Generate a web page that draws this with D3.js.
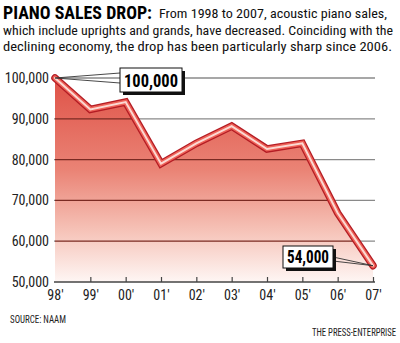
<!DOCTYPE html>
<html><head><meta charset="utf-8">
<script src="https://cdn.jsdelivr.net/npm/d3@7"></script>
<style>body{margin:0;background:#fff}svg{display:block}</style>
</head><body>
<svg id="c" width="400" height="343"></svg>
<script>
const years = ["98'","99'","00'","01'","02'","03'","04'","05'","06'","07'"];
const sales = [100000, 92300, 94100, 79000, 84000, 88200, 82600, 84000, 66900, 54000];
const yTicks = [50000, 60000, 70000, 80000, 90000, 100000];
const titleLines = ["From 1998 to 2007, acoustic piano sales,",
  "which include uprights and grands, have decreased. Coinciding with the",
  "declining economy, the drop has been particularly sharp since 2006."];
const callouts = [{i:0, label:"100,000"}, {i:9, label:"54,000"}];

const svg = d3.select("#c");
const FONT = "'Liberation Sans Narrow','Roboto Condensed','Arial Narrow','Liberation Sans',sans-serif";
const x = d3.scalePoint().domain(years).range([55, 373]);
const y = d3.scaleLinear().domain([50000, 100000]).range([282, 78]);

// title
svg.append("text").attr("x",3).attr("y",19).attr("font-family",FONT).attr("font-weight","bold")
  .attr("font-size",19).attr("textLength",149).attr("lengthAdjust","spacingAndGlyphs").text("PIANO SALES DROP:");
const tl = [{x:159,y:18,w:228},{x:3,y:34.5,w:390},{x:3,y:50.5,w:389}];
titleLines.forEach((t,k)=>{
  svg.append("text").attr("x",tl[k].x).attr("y",tl[k].y).attr("font-family",FONT).attr("font-size",13.5)
    .attr("fill","#111").attr("textLength",tl[k].w).attr("lengthAdjust","spacingAndGlyphs").text(t);
});

// gradient
const defs = svg.append("defs");
const g = defs.append("linearGradient").attr("id","fillg")
  .attr("gradientUnits","userSpaceOnUse").attr("x1",0).attr("y1",y(100000)).attr("x2",0).attr("y2",y(50000));
g.append("stop").attr("offset","0%").attr("stop-color","#df5247");
g.append("stop").attr("offset","45%").attr("stop-color","#ea8375");
g.append("stop").attr("offset","75%").attr("stop-color","#f6c3b8");
g.append("stop").attr("offset","100%").attr("stop-color","#fef6f4");

// gridlines (behind, gray)
svg.append("g").selectAll("line").data(yTicks.filter(v=>v>50000)).join("line")
  .attr("x1",54).attr("x2",375).attr("y1",d=>y(d)).attr("y2",d=>y(d))
  .attr("stroke","#8a8a8a").attr("stroke-width",1.3);

// area
const area = d3.area().x((d,i)=>x(years[i])).y0(y(50000)).y1(d=>y(d));
svg.append("path").datum(sales).attr("d",area).attr("fill","url(#fillg)");

// gridlines over area (dark red), clipped to area
defs.append("clipPath").attr("id","ac").append("path").datum(sales).attr("d",area);
svg.append("g").attr("clip-path","url(#ac)").selectAll("line").data(yTicks.filter(v=>v>50000)).join("line")
  .attr("x1",54).attr("x2",375).attr("y1",d=>y(d)).attr("y2",d=>y(d))
  .attr("stroke","#7a2a22").attr("stroke-width",1.3);

// y axis labels
svg.append("g").selectAll("text").data(yTicks).join("text")
  .attr("x",49).attr("y",d=>y(d)+5).attr("text-anchor","end").attr("font-family",FONT)
  .attr("font-size",14).attr("fill","#222").text(d3.format(","));

// x axis
const xa = svg.append("g").attr("transform",`translate(0,${y(50000)})`)
  .call(d3.axisBottom(x).tickSize(-5).tickPadding(10));
xa.select(".domain").attr("d",`M54,0H375`).attr("stroke","#444").attr("stroke-width",1.3);
xa.selectAll(".tick line").attr("stroke","#444").attr("stroke-width",1.2);
xa.selectAll(".tick").filter((d,i)=>i===0).select("line").remove();
xa.selectAll(".tick text").attr("font-family",FONT).attr("font-size",14).attr("fill","#222").attr("dy","0.55em");

// line tube
const line = d3.line().x((d,i)=>x(years[i])).y(d=>y(d));
[["#b41c24",7.5],["#ee6258",5],["#fbd9d3",2]].forEach(([c,w])=>{
  svg.append("path").datum(sales).attr("d",line).attr("fill","none").attr("stroke",c)
    .attr("stroke-width",w).attr("stroke-linejoin","miter").attr("stroke-linecap","round");
});

// callouts
const boxes = [{bx:120,by:68,bw:62,bh:24,ly:[73,83],side:"left",fs:19},
               {bx:283,by:246,bw:50,bh:22,ly:[257,261],side:"right",fs:18}];
callouts.forEach((c,k)=>{
  const b = boxes[k], px = x(years[c.i]), py = y(sales[c.i]);
  const ex = b.side==="left" ? b.bx : b.bx+b.bw;
  b.ly.forEach(ly=>svg.append("line").attr("x1",px).attr("y1",py).attr("x2",ex).attr("y2",ly)
    .attr("stroke","#333").attr("stroke-width",0.9));
  svg.append("rect").attr("x",b.bx+3).attr("y",b.by+3).attr("width",b.bw).attr("height",b.bh).attr("fill","#111");
  svg.append("rect").attr("x",b.bx).attr("y",b.by).attr("width",b.bw).attr("height",b.bh)
    .attr("fill","#fff").attr("stroke","#111").attr("stroke-width",1);
  svg.append("text").attr("x",b.bx+b.bw/2).attr("y",b.by+b.bh-5).attr("text-anchor","middle")
    .attr("font-family",FONT).attr("font-weight","bold").attr("font-size",b.fs)
    .attr("textLength",b.bw-8).attr("lengthAdjust","spacingAndGlyphs").text(c.label);
});

// footer
svg.append("text").attr("x",10).attr("y",323).attr("font-family",FONT).attr("font-size",11)
  .attr("fill","#222").attr("textLength",56).attr("lengthAdjust","spacingAndGlyphs").text("SOURCE: NAAM");
svg.append("text").attr("x",396).attr("y",336).attr("text-anchor","end").attr("font-family",FONT).attr("font-size",10.5)
  .attr("fill","#222").attr("textLength",84).attr("lengthAdjust","spacingAndGlyphs").text("THE PRESS-ENTERPRISE");
</script>
</body></html>
